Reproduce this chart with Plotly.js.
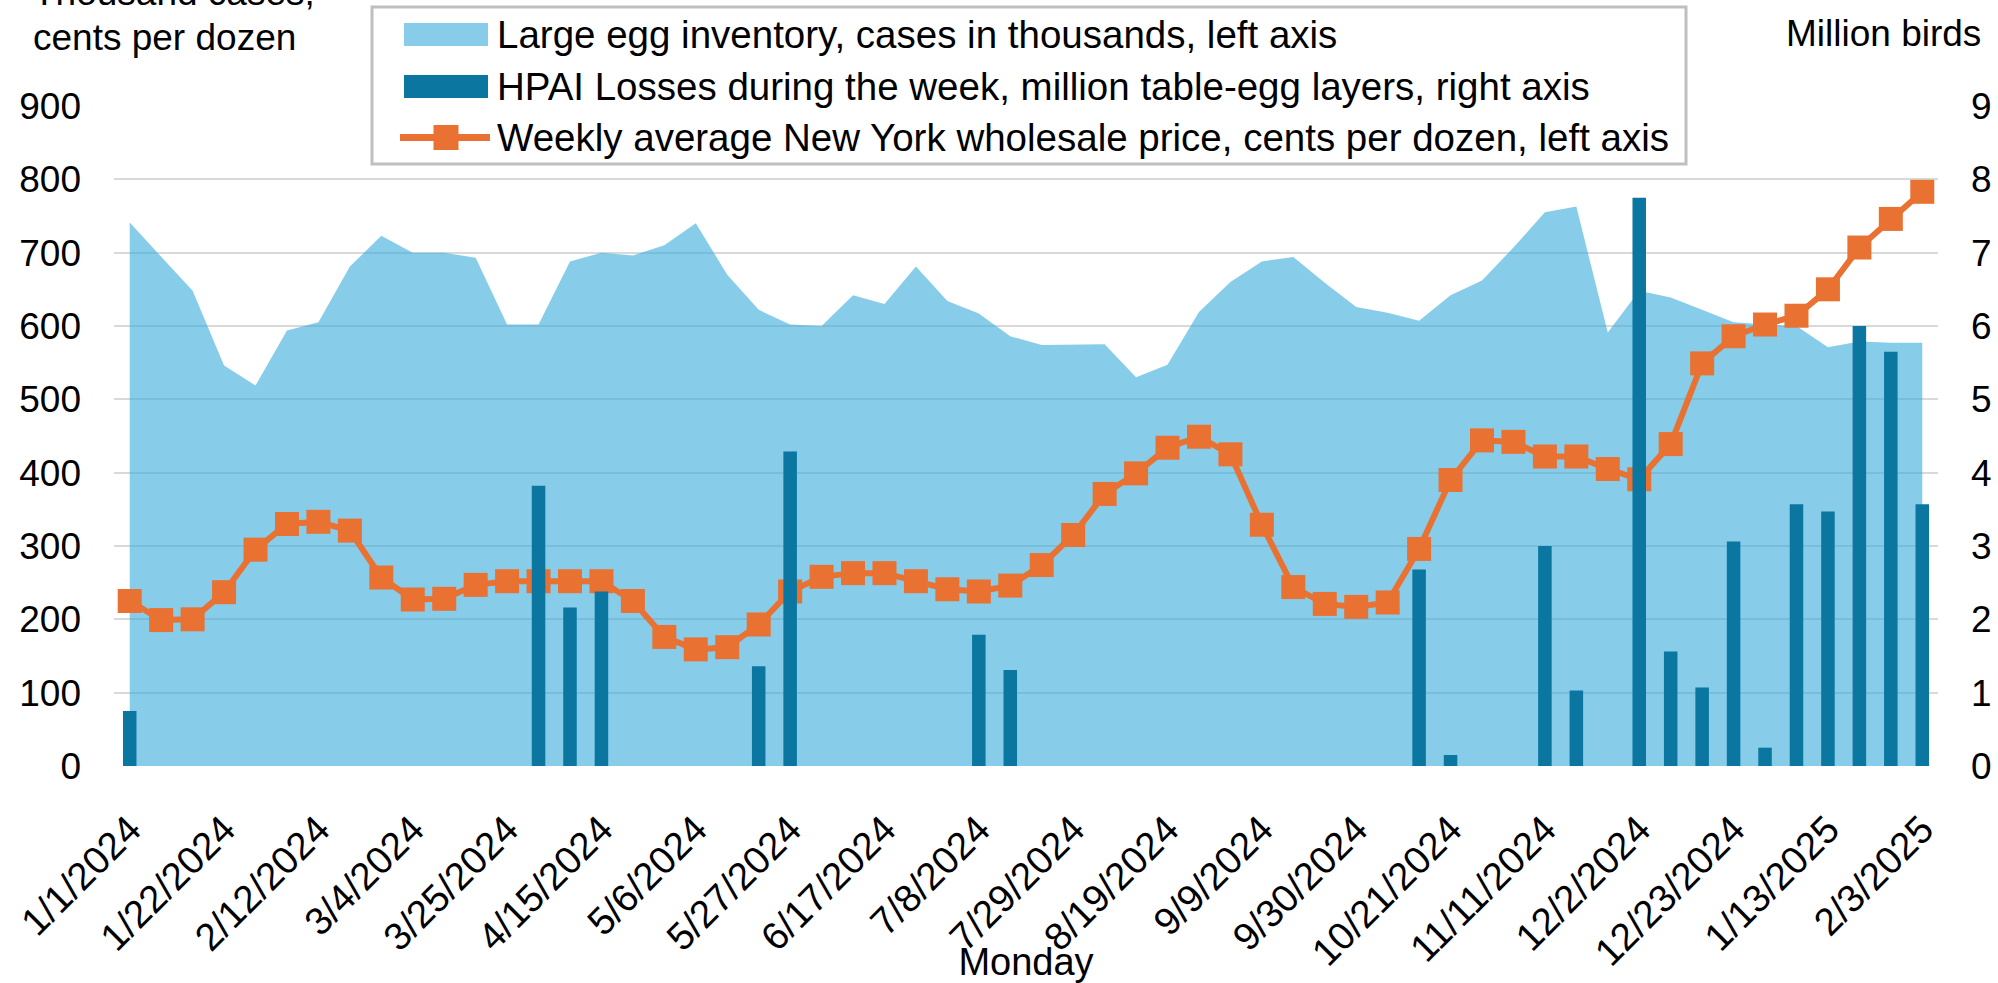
<!DOCTYPE html>
<html>
<head>
<meta charset="utf-8">
<script src="https://cdn.plot.ly/plotly-3.0.1.min.js"></script>
<style>
  html, body { margin: 0; padding: 0; background: #ffffff; }
  #chart { width: 1998px; height: 983px; }
</style>
</head>
<body>
<div id="chart"></div>
<script>
// Week starting Monday
const weeks = [
  "1/1/2024","1/8/2024","1/15/2024","1/22/2024","1/29/2024","2/5/2024","2/12/2024","2/19/2024","2/26/2024",
  "3/4/2024","3/11/2024","3/18/2024","3/25/2024","4/1/2024","4/8/2024","4/15/2024","4/22/2024","4/29/2024",
  "5/6/2024","5/13/2024","5/20/2024","5/27/2024","6/3/2024","6/10/2024","6/17/2024","6/24/2024","7/1/2024",
  "7/8/2024","7/15/2024","7/22/2024","7/29/2024","8/5/2024","8/12/2024","8/19/2024","8/26/2024","9/2/2024",
  "9/9/2024","9/16/2024","9/23/2024","9/30/2024","10/7/2024","10/14/2024","10/21/2024","10/28/2024","11/4/2024",
  "11/11/2024","11/18/2024","11/25/2024","12/2/2024","12/9/2024","12/16/2024","12/23/2024","12/30/2024",
  "1/6/2025","1/13/2025","1/20/2025","1/27/2025","2/3/2025"
];

// Tick labels shown on the x axis (every third week)
const tickLabels = [
  "1/1/2024","1/22/2024","2/12/2024","3/4/2024","3/25/2024","4/15/2024","5/6/2024","5/27/2024",
  "6/17/2024","7/8/2024","7/29/2024","8/19/2024","9/9/2024","9/30/2024","10/21/2024","11/11/2024",
  "12/2/2024","12/23/2024","1/13/2025","2/3/2025"
];

// Series names
const seriesNames = [
  "Large egg inventory, cases in thousands, left axis",
  "HPAI Losses during the week, million table-egg layers, right axis",
  "Weekly average New York wholesale price, cents per dozen, left axis"
];

// Large egg inventory, cases in thousands (left axis)
const inventory = [
  741, 695, 648, 546, 519, 594, 605, 681, 723,
  700, 700, 693, 602, 602, 688, 700, 696, 710,
  740, 670, 622, 602, 600, 642, 630, 681, 634,
  617, 586, 574, 575, 575, 530, 547, 619, 660,
  688, 694, 659, 626, 618, 607, 642, 662, 707,
  755, 763, 591, 648, 639, 622, 605, 602,
  600, 571, 579, 577, 577
];

// HPAI losses during the week, million table-egg layers (right axis)
const hpai = [
  0.75, 0, 0, 0, 0, 0, 0, 0, 0,
  0, 0, 0, 0, 3.82, 2.16, 2.38, 0, 0,
  0, 0, 1.36, 4.29, 0, 0, 0, 0, 0,
  1.79, 1.31, 0, 0, 0, 0, 0, 0, 0,
  0, 0, 0, 0, 0, 2.68, 0.15, 0, 0,
  3.00, 1.03, 0, 7.75, 1.56, 1.07, 3.06, 0.25,
  3.57, 3.47, 6.00, 5.65, 3.57
];

// Weekly average New York wholesale price, cents per dozen (left axis)
const price = [
  225, 199, 200, 237, 295, 330, 333, 321, 257,
  227, 228, 247, 252, 252, 252, 252, 225, 176,
  159, 162, 193, 238, 258, 263, 263, 252, 241,
  238, 246, 274, 315, 371, 399, 434, 449, 425,
  329, 244, 221, 217, 223, 296, 390, 444, 442,
  422, 422, 405, 391, 439, 549, 586, 602,
  614, 650, 707, 746, 783
];

const FONT = "Liberation Sans, Arial, sans-serif";
const FS = 37;
const C_AREA = "rgba(55,172,220,0.6)";
const C_AREA_SOLID = "#87cdea";
const C_BAR = "#0b76a0";
const C_LINE = "#e97132";

const traces = [
  {
    type: "scatter",
    name: seriesNames[0],
    x: weeks, y: inventory,
    mode: "lines",
    line: { width: 0, color: C_AREA },
    fill: "tozeroy",
    fillcolor: C_AREA,
    yaxis: "y"
  },
  {
    type: "bar",
    name: seriesNames[1],
    x: weeks, y: hpai,
    marker: { color: C_BAR },
    yaxis: "y2"
  },
  {
    type: "scatter",
    name: seriesNames[2],
    x: weeks, y: price,
    mode: "lines+markers",
    line: { color: C_LINE, width: 6 },
    marker: { symbol: "square", size: 24, color: C_LINE },
    yaxis: "y"
  }
];

// Legend box drawn in paper coordinates (plot area: x 114..1938 px, y 106..766 px)
const L = 114, W = 1824, B = 766, H = 660;
const px = v => (v - L) / W;
const py = v => (B - v) / H;
const LF = 38.5;

const shapes = [
  { type: "rect", xref: "paper", yref: "paper", layer: "above",
    x0: px(372), x1: px(1686), y0: py(164), y1: py(7),
    fillcolor: "#ffffff", line: { color: "#bfbfbf", width: 3 } },
  { type: "rect", xref: "paper", yref: "paper", layer: "above",
    x0: px(404), x1: px(488), y0: py(46), y1: py(23),
    fillcolor: C_AREA_SOLID, line: { width: 0 } },
  { type: "rect", xref: "paper", yref: "paper", layer: "above",
    x0: px(404), x1: px(488), y0: py(98), y1: py(75),
    fillcolor: C_BAR, line: { width: 0 } },
  { type: "line", xref: "paper", yref: "paper", layer: "above",
    x0: px(400), x1: px(490), y0: py(137.5), y1: py(137.5),
    line: { color: C_LINE, width: 7 } },
  { type: "rect", xref: "paper", yref: "paper", layer: "above",
    x0: px(433.5), x1: px(458.5), y0: py(150), y1: py(125),
    fillcolor: C_LINE, line: { width: 0 } }
];

const legendTexts = [
  { text: seriesNames[0], yc: 34.5 },
  { text: seriesNames[1], yc: 86.5 },
  { text: seriesNames[2], yc: 137.5 }
].map(o => ({
  xref: "paper", yref: "paper", x: px(495), y: py(o.yc),
  xanchor: "left", yanchor: "middle", showarrow: false,
  text: o.text, font: { family: FONT, size: LF, color: "#000000" }
}));

const layout = {
  width: 1998, height: 983,
  margin: { l: 114, r: 60, t: 106, b: 217 },
  paper_bgcolor: "#ffffff",
  plot_bgcolor: "#ffffff",
  font: { family: FONT, size: FS, color: "#000000" },
  showlegend: false,
  bargap: 0.57,
  xaxis: {
    type: "category",
    categoryorder: "array", categoryarray: weeks,
    range: [-0.5, weeks.length - 0.5],
    tickmode: "array", tickvals: tickLabels, ticktext: tickLabels,
    tickangle: -45,
    showgrid: false, zeroline: false, showline: false, ticks: "",
    tickfont: { family: FONT, size: 38.5, color: "#000000" },
    ticklabelstandoff: 32,
    title: { text: "Monday", font: { family: FONT, size: 38, color: "#000000" }, standoff: 6 }
  },
  yaxis: {
    range: [0, 900], dtick: 100, tick0: 0,
    showgrid: true, gridcolor: "#d9d9d9", gridwidth: 2,
    zeroline: false, showline: false, ticks: "",
    tickfont: { family: FONT, size: FS, color: "#000000" },
    ticklabelstandoff: 32
  },
  yaxis2: {
    overlaying: "y", side: "right",
    range: [0, 9], dtick: 1, tick0: 0,
    showgrid: false, zeroline: false, showline: false, ticks: "",
    tickfont: { family: FONT, size: FS, color: "#000000" },
    ticklabelstandoff: 32
  },
  shapes: shapes,
  annotations: legendTexts.concat([
    { xref: "paper", yref: "paper", x: px(31), y: py(-8), xanchor: "left", yanchor: "middle",
      text: "Thousand cases,", showarrow: false, font: { family: FONT, size: FS, color: "#000000" } },
    { xref: "paper", yref: "paper", x: px(31), y: py(37), xanchor: "left", yanchor: "middle",
      text: "cents per dozen", showarrow: false, font: { family: FONT, size: FS, color: "#000000" } },
    { xref: "paper", yref: "paper", x: px(1983), y: py(33), xanchor: "right", yanchor: "middle",
      text: "Million birds", showarrow: false, font: { family: FONT, size: FS, color: "#000000" } }
  ])
};

Plotly.newPlot("chart", traces, layout, { displayModeBar: false, responsive: false });
</script>
</body>
</html>
